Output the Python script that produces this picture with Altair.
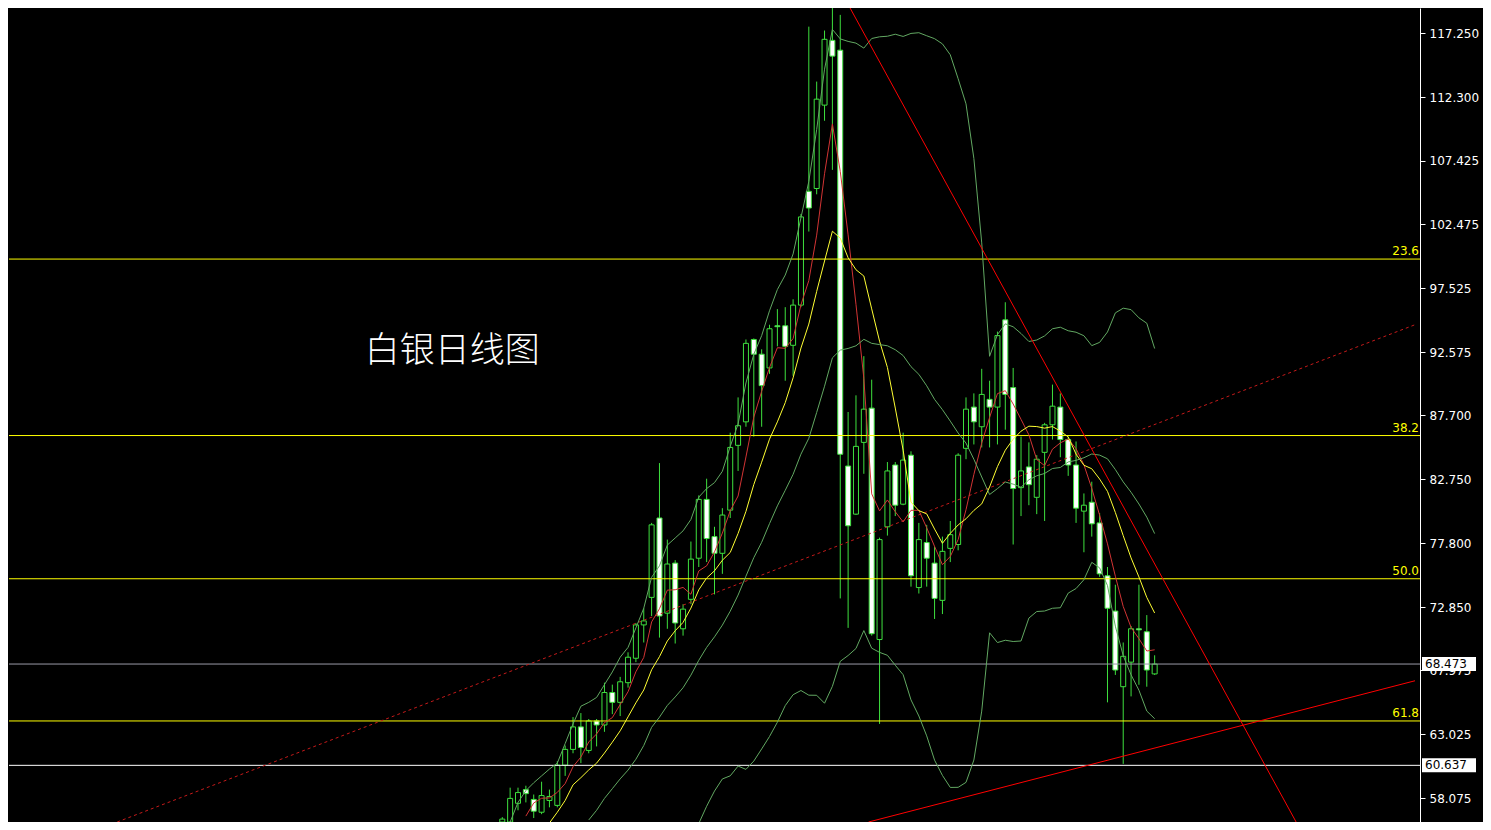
import altair as alt
import pandas as pd

# ---------------- data ----------------
opens = [56.25, 56.25, 57.70, 58.76, 58.00, 57.01, 57.92, 57.54, 60.65, 61.87,
         63.61, 61.79, 64.07, 63.76, 66.27, 65.51, 67.03, 68.92, 71.50, 73.63,
         79.77, 72.41, 76.28, 71.20, 73.48, 76.66, 81.21, 78.33, 77.04, 80.38,
         85.39, 87.21, 93.58, 92.44, 91.38, 94.64, 94.64, 93.13, 96.24, 105.04,
         105.26, 111.71, 116.72, 115.96, 83.79, 80.07, 85.62, 88.27, 70.37, 79.09,
         83.87, 80.84, 84.63, 74.39, 77.87, 76.28, 73.40, 77.42, 77.72, 85.16,
         88.35, 86.83, 88.95, 88.35, 95.10, 89.86, 82.12, 83.72, 81.37, 84.85,
         86.98, 88.35, 85.84, 83.87, 80.30, 80.99, 79.39, 75.30, 72.57, 66.72,
         68.62, 71.20, 70.97, 67.71]
highs = [56.63, 58.91, 58.91, 59.06, 58.38, 59.37, 58.76, 60.96, 62.17, 64.37,
         64.68, 64.22, 64.22, 67.03, 66.88, 67.48, 69.38, 71.65, 72.79, 79.39,
         84.02, 78.10, 76.51, 73.10, 77.95, 81.52, 82.81, 79.09, 80.53, 86.37,
         89.10, 93.58, 93.66, 92.82, 94.72, 95.93, 96.08, 96.69, 103.29, 117.78,
         113.53, 117.48, 119.50, 118.69, 87.97, 89.26, 92.29, 90.47, 78.25, 84.10,
         84.10, 86.37, 84.93, 79.39, 79.24, 77.57, 78.33, 79.54, 84.78, 89.10,
         89.41, 91.31, 90.39, 94.19, 96.46, 91.38, 86.07, 85.62, 84.63, 87.13,
         90.09, 89.41, 86.07, 85.69, 81.67, 82.58, 80.15, 75.98, 74.61, 70.14,
         71.41, 74.61, 72.26, 69.15]
lows = [56.10, 56.10, 57.16, 57.77, 56.56, 56.86, 57.39, 57.39, 59.82, 61.57,
        60.81, 61.57, 62.10, 63.23, 64.60, 64.45, 66.65, 68.62, 70.14, 72.19,
        70.52, 71.20, 70.06, 70.67, 73.10, 75.98, 76.36, 73.86, 75.45, 79.77,
        83.41, 86.83, 86.07, 86.83, 90.92, 93.05, 90.39, 90.77, 96.08, 101.93,
        104.81, 110.50, 106.70, 73.55, 71.27, 80.00, 83.19, 70.67, 63.84, 78.41,
        79.92, 80.76, 74.46, 73.93, 74.46, 71.96, 72.34, 76.36, 77.27, 84.32,
        85.46, 85.23, 85.23, 85.46, 86.60, 77.72, 79.92, 80.76, 80.07, 79.54,
        85.84, 84.47, 83.03, 79.39, 77.12, 78.33, 75.22, 65.51, 67.63, 60.75,
        65.97, 66.87, 66.72, 67.63]
closes = [56.48, 58.08, 58.53, 58.45, 57.09, 58.30, 58.23, 60.65, 61.87, 63.61,
          62.02, 64.07, 63.76, 66.27, 65.51, 67.10, 69.00, 71.50, 71.81, 79.24,
          72.19, 76.21, 71.65, 72.72, 76.59, 81.21, 78.18, 77.04, 80.00, 85.23,
          86.91, 93.28, 92.44, 90.01, 94.41, 94.57, 93.05, 96.24, 103.06, 103.75,
          112.17, 116.80, 115.50, 84.70, 79.17, 85.31, 88.19, 70.82, 78.10, 83.41,
          80.76, 84.25, 75.30, 78.10, 76.66, 73.55, 77.19, 78.48, 84.63, 88.19,
          87.21, 89.33, 88.35, 93.88, 89.33, 82.05, 83.41, 82.35, 84.32, 86.98,
          88.42, 85.84, 83.87, 80.53, 80.76, 79.32, 75.45, 72.79, 68.01, 69.07,
          71.20, 71.12, 68.01, 68.47]

# indicator values at the left edge (before full windows exist)
ma5_early = [56.71]                      # from bar 3
ma10_early = [56.18, 57.01, 57.92]       # from bar 6
bb_mid_early = [56.41, 57.16, 58.08, 58.83, 59.59, 60.27, 61.11, 62.17]   # from bar 11
bb_up_early = [56.03, 56.25, 57.77, 58.68, 59.29, 59.82, 60.35, 60.81, 62.32, 63.84,
               65.21, 65.51, 65.89, 66.88, 67.86, 69.00, 69.76, 71.27, 72.79]  # from bar 0

fib_levels = [99.80, 86.15, 75.07, 64.07]
fib_labels = ["23.6", "38.2", "50.0", "61.8"]
last_price = 68.473
low_mark = 60.637
tick_values = [117.250, 112.300, 107.425, 102.475, 97.525, 92.575, 87.700,
               82.750, 77.800, 72.850, 67.975, 63.025, 58.075]

# trend lines: (bar index, price) end points
down_line_i = [44.25, 101.0]
down_line_v = [119.2225, 56.254]
up_line_i = [46.6, 116.125]
up_line_v = [56.254, 67.18]
dash_line_i = [-49.0, 116.125]
dash_line_v = [56.254, 94.72]

title_text = "白银日线图"
title_i = -17.5
title_v = 92.67

# ---------------- layout ----------------
W, H = 1411, 814
xs = alt.Scale(domain=[-62.125, 116.125], nice=False, zero=False)
ys = alt.Scale(domain=[56.254, 119.2225], nice=False, zero=False)
GREEN = "#3ee03e"
BB = "#62a862"

n = len(closes)
idx = list(range(n))
candles = pd.DataFrame({"i": idx, "o": opens, "h": highs, "l": lows, "c": closes})
candles["kind"] = ["bear" if c < o else "bull" for o, c in zip(opens, closes)]

cs = pd.Series(closes, dtype=float)


def with_early(s, early, start):
    s = s.copy()
    for k, v in enumerate(early):
        if pd.isna(s.iloc[start + k]):
            s.iloc[start + k] = v
    return s


ma5 = with_early(cs.rolling(5).mean(), ma5_early, 3)
ma10 = with_early(cs.rolling(10).mean(), ma10_early, 6)
mid_raw = cs.rolling(20).mean()
sd = cs.rolling(20).std(ddof=0)
bb_mid = with_early(mid_raw, bb_mid_early, 11)
bb_up = with_early(mid_raw + 2 * sd, bb_up_early, 0)
bb_lo = mid_raw - 2 * sd

rows = []
for name, ser in [("ma5", ma5), ("ma10", ma10), ("mid", bb_mid), ("up", bb_up), ("lo", bb_lo)]:
    for i, v in enumerate(ser):
        if not pd.isna(v):
            rows.append({"s": name, "i": i, "v": float(v)})
lines_df = pd.DataFrame(rows)

X = alt.X("i:Q", scale=xs, axis=None)

yaxis = alt.Axis(orient="right", values=tick_values, format=".3f", grid=False,
                 domainColor="#ffffff", tickColor="#ffffff", labelColor="#ffffff",
                 tickSize=5, labelFont="DejaVu Sans", labelFontSize=12, labelPadding=4,
                 title=None, labelOverlap=False, domainWidth=1, tickWidth=1, zindex=0)


def Y(field):
    return alt.Y(field, scale=ys, axis=yaxis, title=None)


base = alt.Chart(candles)
wicks = base.mark_rule(color=GREEN, strokeWidth=1, clip=True).encode(
    x=X, y=Y("l:Q"), y2="h:Q")
bodies = base.mark_bar(width=5, stroke=GREEN, strokeWidth=1, clip=True).encode(
    x=X, y=Y("o:Q"), y2="c:Q",
    fill=alt.Fill("kind:N", scale=alt.Scale(domain=["bull", "bear"], range=["#000000", "#ffffff"]),
                  legend=None))

ind = alt.Chart(lines_df).mark_line(strokeWidth=1, clip=True).encode(
    x=X, y=Y("v:Q"),
    color=alt.Color("s:N", scale=alt.Scale(domain=["ma5", "ma10", "mid", "up", "lo"],
                                           range=["#d23434", "#ffff33", BB, BB, BB]), legend=None),
    detail="s:N")

fib_df = pd.DataFrame({"v": fib_levels, "t": fib_labels})
fib_rules = alt.Chart(fib_df).mark_rule(color="#ffff00", strokeWidth=1).encode(y=Y("v:Q"))
fib_text = alt.Chart(fib_df).mark_text(color="#ffff00", align="right", baseline="bottom",
                                       font="DejaVu Sans", fontSize=12, dy=-1).encode(
    x=alt.value(W - 1), y=Y("v:Q"), text="t:N")

last_df = pd.DataFrame({"v": [last_price], "t": ["68.473"]})
low_df = pd.DataFrame({"v": [low_mark], "t": ["60.637"]})
last_rule = alt.Chart(last_df).mark_rule(color="#9a9aa8", strokeWidth=1).encode(y=Y("v:Q"))
low_rule = alt.Chart(low_df).mark_rule(color="#ffffff", strokeWidth=1).encode(y=Y("v:Q"))

box_df = pd.concat([last_df, low_df], ignore_index=True)
boxes = alt.Chart(box_df).mark_rule(color="#ffffff", strokeWidth=14, strokeCap="butt").encode(
    x=alt.value(W + 2), x2=alt.value(W + 56), y=Y("v:Q"))
box_text = alt.Chart(box_df).mark_text(color="#000000", align="left", baseline="middle",
                                       font="DejaVu Sans", fontSize=12).encode(
    x=alt.value(W + 5), y=Y("v:Q"), text="t:N")

trend_df = pd.DataFrame({
    "seg": ["down", "down", "up", "up"],
    "i": down_line_i + up_line_i,
    "v": down_line_v + up_line_v,
})
trend = alt.Chart(trend_df).mark_line(color="#ff0000", strokeWidth=1, clip=True).encode(
    x=X, y=Y("v:Q"), detail="seg:N")
dash_df = pd.DataFrame({"i": dash_line_i, "v": dash_line_v})
dash = alt.Chart(dash_df).mark_line(color="#c41a1a", strokeWidth=1, strokeDash=[3, 3], clip=True).encode(
    x=X, y=Y("v:Q"))

title_df = pd.DataFrame({"i": [title_i], "v": [title_v], "t": [title_text]})
title = alt.Chart(title_df).mark_text(color="#ffffff", align="left", baseline="middle",
                                      font="Noto Sans CJK SC", fontSize=35, fontWeight=300).encode(
    x=X, y=Y("v:Q"), text="t:N")

chart = alt.layer(
    wicks, bodies, fib_rules, last_rule, low_rule, dash, ind, trend,
    fib_text, title, boxes, box_text
).properties(width=W, height=H, background="#000000", padding=0).configure_view(stroke=None)

chart.save("out.html", embed_options={"renderer": "svg", "actions": False})
